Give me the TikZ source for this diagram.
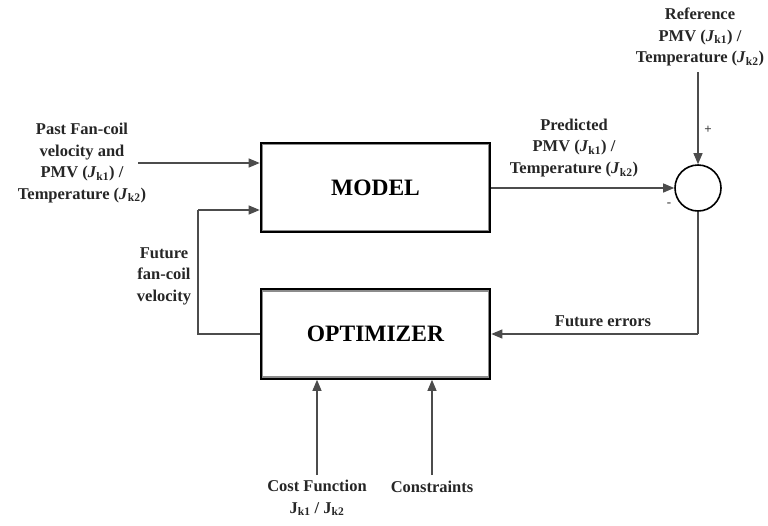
\documentclass[tikz,border=0pt]{standalone}
\usepackage{fontspec}
\setmainfont{Liberation Serif}
\usetikzlibrary{arrows.meta}
\begin{document}
\begin{tikzpicture}[x=1pt,y=-1pt,
  blk/.style={draw=black,line width=2.6pt,minimum width=229pt,minimum height=89pt,inner sep=0pt,font=\fontsize{23.5}{27}\selectfont\bfseries},
  sumc/.style={circle,draw=black,line width=1.6pt,minimum size=46pt,inner sep=0pt},
  conn/.style={draw=black!70,line width=1.1pt},
  arr/.style={conn,-{Triangle[length=11pt,width=9pt]},shorten >=0pt},
  lbl/.style={align=center,font=\fontsize{16.5}{21.5}\selectfont\bfseries,inner sep=0pt,text=black!85},
  sgn/.style={inner sep=0pt,font=\fontsize{13}{14}\selectfont\bfseries,text=black!75}
]
\useasboundingbox (0,0) rectangle (768,525);
\node[blk] (model) at (375.5,187.5) {MODEL};
\node[blk] (opt) at (375.5,334) {OPTIMIZER};
\foreach \n in {model,opt}{
  \draw[black!45,line width=1.2pt] ([shift={(2.8pt,2.8pt)}]\n.south west) rectangle ([shift={(-2.8pt,-2.8pt)}]\n.north east);
}
\node[sumc] (sum) at (698,188) {};

\coordinate (pin) at (138,163);
\coordinate (fbA) at (198,334);
\coordinate (fbB) at (198,210);
\coordinate (refin) at (698,72);
\coordinate (errA) at (698,334);
\coordinate (costin) at (317,475);
\coordinate (conin) at (432,475);

\draw[arr] (pin) -- (pin -| model.west);
\draw[conn] (opt.west) -- (fbA) -- (fbB);
\draw[arr] (fbB) -- (fbB -| model.west);
\draw[arr] (model.east |- sum.west) -- (sum.west);
\draw[arr] (refin) -- (sum.north);
\draw[conn] (sum.south) -- (errA);
\draw[arr] (errA) -- (errA -| opt.east);
\draw[arr] (costin) -- (costin |- opt.south);
\draw[arr] (conin) -- (conin |- opt.south);

\node[lbl] (tpast) at (82,163) {Past Fan-coil\\velocity and\\PMV (\textit{J}\textsubscript{k1}) /\\Temperature (\textit{J}\textsubscript{k2})};
\node[lbl] (tfut) at (164,276) {Future\\fan-coil\\velocity};
\node[lbl] (tpred) at (574,148) {Predicted\\PMV (\textit{J}\textsubscript{k1}) /\\Temperature (\textit{J}\textsubscript{k2})};
\node[lbl] (tref) at (700,37) {Reference\\PMV (\textit{J}\textsubscript{k1}) /\\Temperature (\textit{J}\textsubscript{k2})};
\node[lbl] (terr) at (603,321) {Future errors};
\node[sgn] (tplus) at (708,130) {+};
\node[sgn] (tminus) at (669,205) {-};
\node[lbl] (tcost) at (317,498) {Cost Function\\J\textsubscript{k1} / J\textsubscript{k2}};
\node[lbl] (tcon) at (432,487) {Constraints};
\end{tikzpicture}
\end{document}
